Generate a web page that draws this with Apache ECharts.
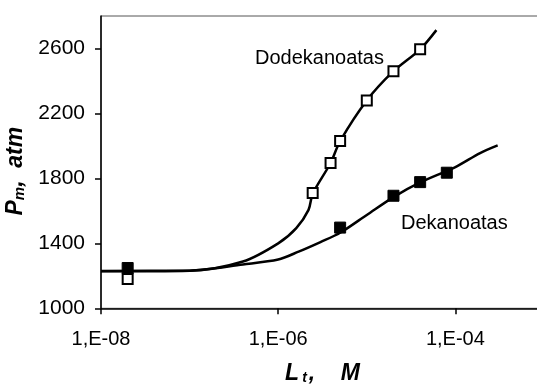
<!DOCTYPE html>
<html><head><meta charset="utf-8">
<script src="https://cdn.jsdelivr.net/npm/echarts@6/dist/echarts.min.js"></script>
<style>html,body{margin:0;padding:0;background:#fff}#c{width:537px;height:385px}</style>
</head><body><div id="c"></div>
<script>
const xTicks = [1e-8, 1e-6, 1e-4];
const yTicks = [1000, 1400, 1800, 2200, 2600];
const dodeMarkX = [2e-8, 2.45e-6, 3.9e-6, 5e-6, 1e-5, 2e-5, 4e-5];
const dodeMarkY = [1180, 1710, 1895, 2030, 2280, 2460, 2595];
const dekaMarkX = [2e-8, 5e-6, 2e-5, 4e-5, 8e-5];
const dekaMarkY = [1248, 1497, 1693, 1777, 1835];
const dodeLineX = [1e-8, 1e-7, 4e-7, 1e-6, 1.6e-6, 2.2e-6, 2.45e-6, 3.9e-6, 5e-6, 1e-5, 2e-5, 4e-5, 6.1e-5];
const dodeLineY = [1230, 1232, 1288, 1400, 1494, 1606, 1705, 1895, 2030, 2280, 2460, 2595, 2713];
const dekaLineX = [1e-8, 1e-7, 4e-7, 1e-6, 1.7e-6, 3e-6, 5e-6, 1e-5, 2e-5, 4e-5, 1e-4, 1.9e-4, 3e-4];
const dekaLineY = [1228, 1232, 1270, 1300, 1349, 1408, 1465, 1575, 1685, 1775, 1870, 1956, 2003];
const seriesNames = ['Dodekanoatas', 'Dekanoatas'];

const zip = (xs, ys) => xs.map((x, i) => [x, ys[i]]);
const FONT = "'Liberation Sans', Arial, sans-serif";
const chart = echarts.init(document.getElementById('c'));
const axisLineStyle = { color: '#000', width: 1.5 };
const nameMain = { fontFamily: FONT, fontSize: 23, fontWeight: 'bold', fontStyle: 'italic', color: '#000', verticalAlign: 'bottom', lineHeight: 23 };
chart.setOption({
  animation: false,
  backgroundColor: '#fff',
  grid: { left: 101, top: 16, width: 443, height: 292.3, containLabel: false, outerBoundsMode: 'none',
    show: true, borderColor: '#555', borderWidth: 1 },
  xAxis: {
    type: 'log', logBase: 10, min: 1e-8, max: 1e-3,
    name: '{a|L}{b|t}{a|,    M}', nameLocation: 'middle', nameGap: 54,
    nameTextStyle: { rich: {
      a: nameMain,
      b: { fontFamily: FONT, fontSize: 14, fontWeight: 'bold', fontStyle: 'italic', color: '#000', verticalAlign: 'bottom', lineHeight: 14, padding: [0, 2, 0, 3] }
    } },
    axisLine: { lineStyle: axisLineStyle },
    axisTick: { show: true, length: 6, lineStyle: axisLineStyle, customValues: xTicks },
    axisLabel: { customValues: xTicks, margin: 21, fontFamily: FONT, fontSize: 20, color: '#000',
      formatter: v => '1,E-' + String(-Math.round(Math.log10(v))).padStart(2, '0') },
    splitLine: { show: false }, minorTick: { show: false }
  },
  yAxis: {
    type: 'value', min: 1000, max: 2800,
    name: '{a|P}{b|m}{a|,  atm}', nameLocation: 'middle', nameGap: 66, nameRotate: 90,
    nameTextStyle: { padding: [0, 18, 0, 0], rich: {
      a: nameMain,
      b: { fontFamily: FONT, fontSize: 15, fontWeight: 'bold', fontStyle: 'italic', color: '#000', verticalAlign: 'bottom', lineHeight: 15 }
    } },
    axisLine: { show: true, lineStyle: axisLineStyle },
    axisTick: { show: true, length: 6, lineStyle: axisLineStyle, customValues: yTicks },
    axisLabel: { customValues: yTicks, margin: 16, fontFamily: FONT, fontSize: 21, color: '#000',
      formatter: v => String(v) },
    splitLine: { show: false }
  },
  series: [
    { name: seriesNames[0] + ' fit', type: 'line', data: zip(dodeLineX, dodeLineY), smooth: 0.3, showSymbol: false, symbol: 'none',
      lineStyle: { color: '#000', width: 2.5 }, z: 2 },
    { name: seriesNames[1] + ' fit', type: 'line', data: zip(dekaLineX, dekaLineY), smooth: 0.3, showSymbol: false, symbol: 'none',
      lineStyle: { color: '#000', width: 2.5 }, z: 2 },
    { name: seriesNames[0], type: 'scatter', data: zip(dodeMarkX, dodeMarkY), symbol: 'rect', symbolSize: 10,
      itemStyle: { color: '#fff', borderColor: '#000', borderWidth: 2, opacity: 1 }, z: 3 },
    { name: seriesNames[1], type: 'scatter', data: zip(dekaMarkX, dekaMarkY), symbol: 'rect', symbolSize: 11,
      itemStyle: { color: '#000', borderColor: '#000', borderWidth: 1, opacity: 1 }, z: 3 }
  ],
  graphic: [
    { type: 'text', left: 255, top: 48, z: 10, style: { text: seriesNames[0], fontFamily: FONT, fontSize: 20, fill: '#000' } },
    { type: 'text', left: 401, top: 213, z: 10, style: { text: seriesNames[1], fontFamily: FONT, fontSize: 20, fill: '#000' } }
  ]
});
</script></body></html>
